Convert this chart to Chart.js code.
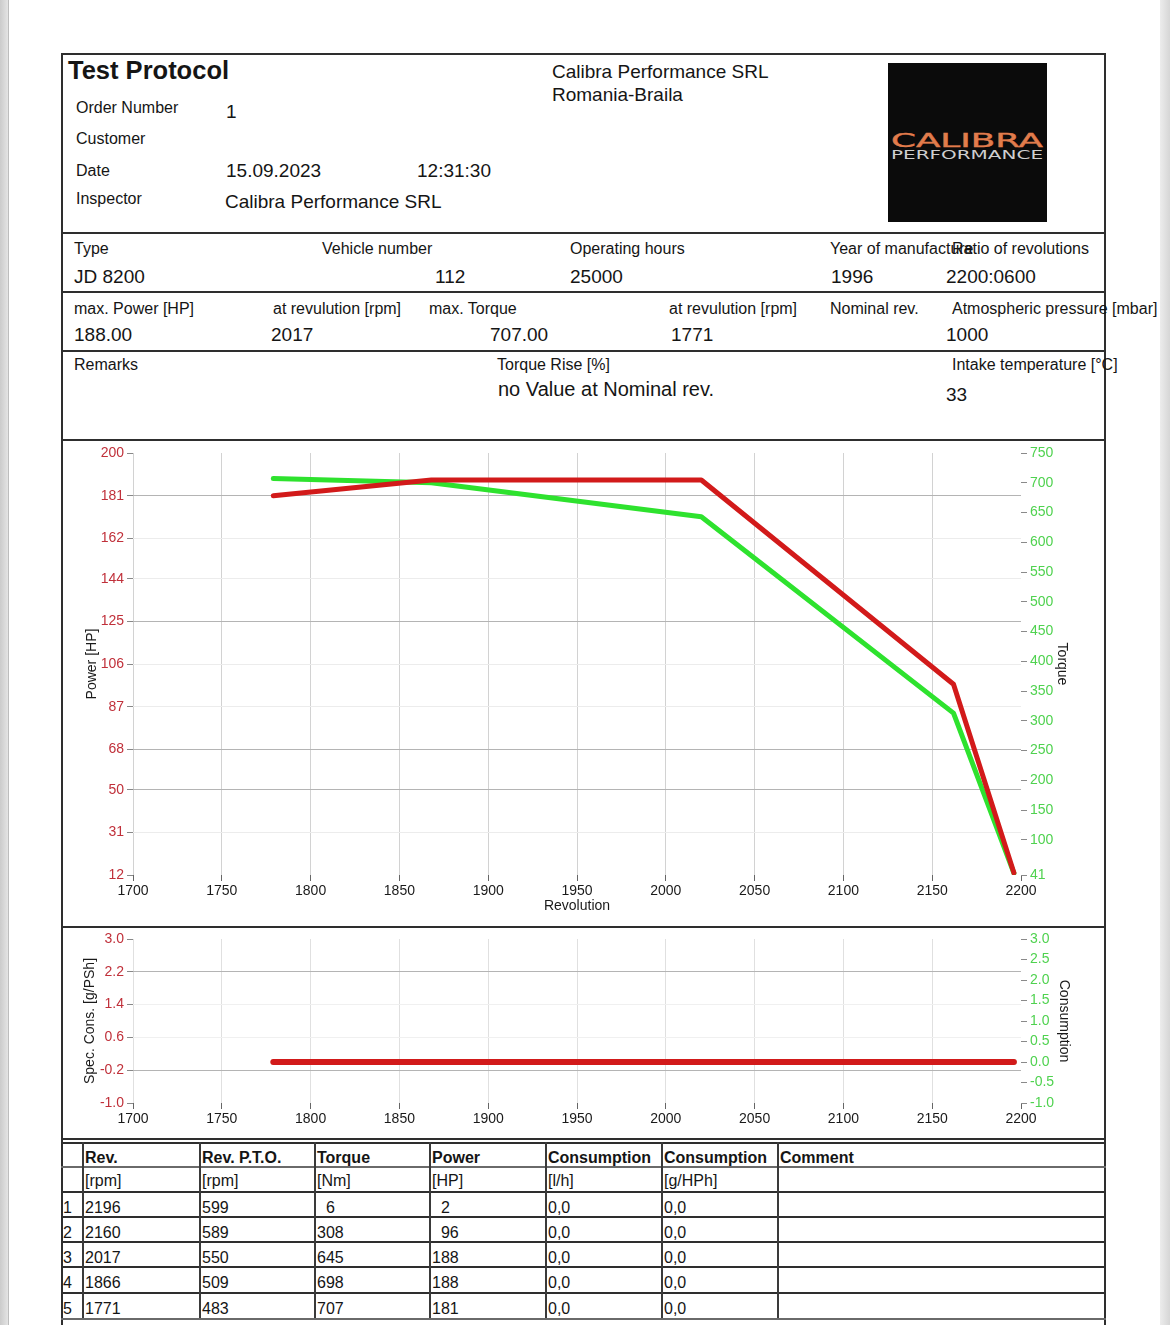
<!DOCTYPE html>
<html><head><meta charset="utf-8">
<script src="https://cdn.jsdelivr.net/npm/chart.js@4.4.0/dist/chart.umd.min.js"></script>
<style>
html,body{margin:0;padding:0;background:#fff;}
body{width:1170px;height:1325px;overflow:hidden;position:relative;font-family:"Liberation Sans",Arial,sans-serif;color:#151515;}
.t{position:absolute;white-space:nowrap;}
.l{position:absolute;background:#2e2e2e;}
canvas{position:absolute;}
</style></head><body>
<div id="page"></div>
<svg style="position:absolute;left:888px;top:63px" width="159" height="159">
<rect width="159" height="159" fill="#0b0b0b"/>
<text x="3" y="84" textLength="152" lengthAdjust="spacingAndGlyphs" font-family="DejaVu Sans" font-size="19" fill="#e27c4c" stroke="#e27c4c" stroke-width="0.4">CALIBRA</text>
<text x="3" y="96" textLength="152" lengthAdjust="spacingAndGlyphs" font-family="DejaVu Sans" font-size="12" fill="#cfcfcf">PERFORMANCE</text>
</svg>
<canvas id="c1" width="1042" height="484" style="left:62px;top:441px;width:1042px;height:484px"></canvas>
<canvas id="c2" width="1042" height="210" style="left:62px;top:927px;width:1042px;height:210px"></canvas>
<script>
// ---- chart data ----
const revChart     = [1779, 1868, 2020, 2162, 2196];
const powerChart   = [181, 188, 188, 97, 13];
const torqueChart  = [707, 700, 643, 313, 44];
const specConsChart = [0, 0, 0, 0, 0];
const consChart     = [0, 0, 0, 0, 0];

// ---- tick labels ----
const revTicks    = [1700,1750,1800,1850,1900,1950,2000,2050,2100,2150,2200];
const powerTicks  = [12,31,50,68,87,106,125,144,162,181,200];
const torqueTicks = [41,100,150,200,250,300,350,400,450,500,550,600,650,700,750];
const specTicks   = [-1.0,-0.2,0.6,1.4,2.2,3.0];
const consTicks   = [-1.0,-0.5,0.0,0.5,1.0,1.5,2.0,2.5,3.0];

// ---- table data ----
const tRev    = ["2196","2160","2017","1866","1771"];
const tPto    = ["599","589","550","509","483"];
const tTorque = ["\u20076","308","645","698","707"];
const tPower  = ["\u20072","\u200796","188","188","181"];
const tConsL  = ["0,0","0,0","0,0","0,0","0,0"];
const tConsG  = ["0,0","0,0","0,0","0,0","0,0"];

const page = document.getElementById('page');
function T(x, y, s, size, bold){
  const d = document.createElement('div');
  d.className = 't';
  const lh = Math.round(size*1.2);
  d.style.left = x + 'px';
  d.style.top = (y - lh/2) + 'px';
  d.style.fontSize = size + 'px';
  d.style.lineHeight = lh + 'px';
  if (bold) d.style.fontWeight = 'bold';
  d.textContent = s;
  page.appendChild(d);
}
function L(x, y, w, h, c){
  const d = document.createElement('div');
  d.className = 'l';
  d.style.left = x + 'px'; d.style.top = y + 'px';
  d.style.width = w + 'px'; d.style.height = h + 'px';
  if (c) d.style.background = c;
  page.appendChild(d);
}
// page edges
L(0,0,8,1325,'linear-gradient(to right,#cbcbcb,#e4e4e4)');
L(8,0,1,1325,'#bdbdbd');
L(1160,0,10,1325,'linear-gradient(to right,#ececec,#d6d6d6)');

// frame
L(61,53,1045,2);
L(61,53,2,1280);
L(1104,53,2,1280);
[232,291,350,439,926,1138,1142].forEach(y=>L(61,y,1045,2));

// header texts
T(68,70,'Test Protocol',25.5,true);
T(76,107,'Order Number',16);
T(226,111,'1',19);
T(76,138,'Customer',16);
T(76,170,'Date',16);
T(226,170,'15.09.2023',19);
T(417,170,'12:31:30',19);
T(76,198,'Inspector',16);
T(225,201,'Calibra Performance SRL',19);
T(552,71,'Calibra Performance SRL',19);
T(552,94,'Romania-Braila',19);
T(74,248,'Type',16);
T(322,248,'Vehicle number',16);
T(570,248,'Operating hours',16);
T(830,248,'Year of manufacture',16);
T(952,248,'Ratio of revolutions',16);
T(74,276,'JD 8200',19);
T(435,276,'112',19);
T(570,276,'25000',19);
T(831,276,'1996',19);
T(946,276,'2200:0600',19);
T(74,308,'max. Power [HP]',16);
T(273,308,'at revulution [rpm]',16);
T(429,308,'max. Torque',16);
T(669,308,'at revulution [rpm]',16);
T(830,308,'Nominal rev.',16);
T(952,308,'Atmospheric pressure [mbar]',16);
T(74,334,'188.00',19);
T(271,334,'2017',19);
T(490,334,'707.00',19);
T(671,334,'1771',19);
T(946,334,'1000',19);
T(74,364,'Remarks',16);
T(497,364,'Torque Rise [%]',16);
T(498,389,'no Value at Nominal rev.',20);
T(952,364,'Intake temperature [°C]',16);
T(946,394,'33',19);

// table
const colX = [61,82,199,314,429,545,661,777,1104];
const rowY = [1142,1166,1191,1216,1241,1266,1292,1318];
rowY.slice(1).forEach((y,i)=>L(61,y,1045,(i===0||i===6)?2:1.5,(i===0||i===6)?'#6a6a6a':'#2e2e2e'));
colX.slice(1,8).forEach(x=>L(x,1142,1.5,176,'#3a3a3a'));
const heads = ['Rev.','Rev. P.T.O.','Torque','Power','Consumption','Consumption','Comment'];
const units = ['[rpm]','[rpm]','[Nm]','[HP]','[l/h]','[g/HPh]',''];
heads.forEach((h,i)=>T(colX[i+1]+3,1157,h,16,true));
units.forEach((u,i)=>T(colX[i+1]+3,1180,u,16));
const cols = [tRev,tPto,tTorque,tPower,tConsL,tConsG];
for (let r=0;r<5;r++){
  const yc = (rowY[r+2]+rowY[r+3])/2 + 3.5;
  T(63,yc,String(r+1),16);
  cols.forEach((c,i)=>T(colX[i+1]+3,yc,c[r],16));
}

// ---- charts ----
Chart.defaults.font.family = '"Liberation Sans", Arial, sans-serif';
const RED = '#d21a1a', GREEN = '#2ee22e';
const RED_T = '#c0303a', GREEN_T = '#4fd24f';
const setTicks = arr => s => { s.ticks = arr.map(v=>({value:v})); };
const pts = (xs, ys) => xs.map((x,i)=>({x, y:ys[i]}));

new Chart(document.getElementById('c1'), {
  type:'line',
  data:{datasets:[
    {label:'Power', data:pts(revChart,powerChart), yAxisID:'yP', borderColor:RED, borderWidth:5, pointRadius:0, borderJoinStyle:'round', borderCapStyle:'round', order:0},
    {label:'Torque', data:pts(revChart,torqueChart), yAxisID:'yT', borderColor:GREEN, borderWidth:5, pointRadius:0, borderJoinStyle:'round', borderCapStyle:'round', order:1}
  ]},
  options:{
    responsive:false, animation:false, events:[],
    layout:{padding:{top:12,left:0,right:0,bottom:0}},
    plugins:{legend:{display:false}, tooltip:{enabled:false}},
    scales:{
      x:{type:'linear', min:1700, max:2200, afterBuildTicks:setTicks(revTicks),
         ticks:{color:'#1a1a1a', font:{size:14}, maxRotation:0, autoSkip:false, padding:2, callback:v=>String(v)},
         grid:{color:c=> (c.tick && c.tick.value===2200) ? 'rgba(0,0,0,0)' : '#d2d2d2', tickColor:'#666', tickLength:6},
         border:{display:false},
         title:{display:true, text:'Revolution', font:{size:14}, color:'#1a1a1a', padding:{top:0,bottom:10}},
         afterFit:s=>{s.height=50;}},
      yP:{position:'left', min:12, max:200, afterBuildTicks:setTicks(powerTicks),
         ticks:{color:RED_T, font:{size:14}, padding:3, autoSkip:false, callback:v=>String(v)},
         grid:{color:c=>{const v=c.tick&&c.tick.value; if(v===200||v===12) return 'rgba(0,0,0,0)'; return [181,125,68,50].includes(v)?'#b4b4b4':'#ececec';}, tickColor:'#888', tickLength:6},
         border:{display:false},
         title:{display:true, text:'Power [HP]', font:{size:14}, color:'#1a1a1a', padding:{top:22,bottom:0}},
         afterFit:s=>{s.width=71;}},
      yT:{position:'right', min:41, max:750, afterBuildTicks:setTicks(torqueTicks),
         ticks:{color:GREEN_T, font:{size:14}, padding:3, autoSkip:false, callback:v=>String(v)},
         grid:{drawOnChartArea:false, tickColor:'#8a8a8a', tickLength:6},
         border:{display:false},
         title:{display:true, text:'Torque', font:{size:14}, color:'#1a1a1a', padding:{top:34,bottom:0}},
         afterFit:s=>{s.width=83;}}
    }
  }
});

new Chart(document.getElementById('c2'), {
  type:'line',
  data:{datasets:[
    {label:'Spec. Cons.', data:pts(revChart,specConsChart), yAxisID:'yS', borderColor:RED, borderWidth:6, pointRadius:0, borderCapStyle:'round', order:0},
    {label:'Consumption', data:pts(revChart,consChart), yAxisID:'yC', borderColor:GREEN, borderWidth:5, pointRadius:0, borderCapStyle:'round', order:1}
  ]},
  options:{
    responsive:false, animation:false, events:[],
    layout:{padding:{top:12,left:0,right:0,bottom:0}},
    plugins:{legend:{display:false}, tooltip:{enabled:false}},
    scales:{
      x:{type:'linear', min:1700, max:2200, afterBuildTicks:setTicks(revTicks),
         ticks:{color:'#1a1a1a', font:{size:14}, maxRotation:0, autoSkip:false, padding:2, callback:v=>String(v)},
         grid:{color:c=> (c.tick && c.tick.value===2200) ? 'rgba(0,0,0,0)' : '#e0e0e0', tickColor:'#666', tickLength:6},
         border:{display:false},
         afterFit:s=>{s.height=34;}},
      yS:{position:'left', min:-1, max:3, afterBuildTicks:setTicks(specTicks),
         ticks:{color:RED_T, font:{size:14}, padding:3, autoSkip:false, callback:v=>Number(v).toFixed(1)},
         grid:{color:c=>{const v=c.tick&&c.tick.value; if(v===3||v===-1) return 'rgba(0,0,0,0)'; return (Math.abs(v-2.2)<1e-6||Math.abs(v+0.2)<1e-6)?'#b4b4b4':'#f0f0f0';}, tickColor:'#888', tickLength:6},
         border:{display:false},
         title:{display:true, text:'Spec. Cons. [g/PSh]', font:{size:14}, color:'#1a1a1a', padding:{top:20,bottom:0}},
         afterFit:s=>{s.width=71;}},
      yC:{position:'right', min:-1, max:3, afterBuildTicks:setTicks(consTicks),
         ticks:{color:GREEN_T, font:{size:14}, padding:3, autoSkip:false, callback:v=>Number(v).toFixed(1)},
         grid:{drawOnChartArea:false, tickColor:'#8a8a8a', tickLength:6},
         border:{display:false},
         title:{display:true, text:'Consumption', font:{size:14}, color:'#1a1a1a', padding:{top:32,bottom:0}},
         afterFit:s=>{s.width=83;}}
    }
  }
});
</script>
</body></html>
